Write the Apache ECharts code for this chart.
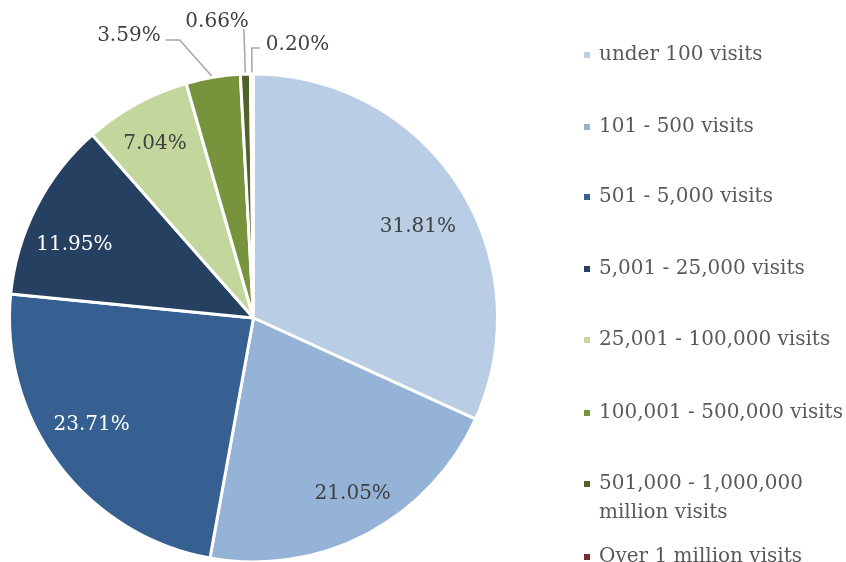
<!DOCTYPE html>
<html>
<head>
<meta charset="utf-8">
<script src="https://cdn.jsdelivr.net/npm/echarts@6/dist/echarts.min.js"></script>
<style>
html,body{margin:0;padding:0;background:#fff;}
#chart{width:846px;height:562px;}
</style>
</head>
<body>
<div id="chart"></div>
<script>
// ---- data ----
const categories = [
  'under 100 visits',
  '101 - 500 visits',
  '501 - 5,000 visits',
  '5,001 - 25,000 visits',
  '25,001 - 100,000 visits',
  '100,001 - 500,000 visits',
  '501,000 - 1,000,000\nmillion visits',
  'Over 1 million visits'
];
const shares = [31.81, 21.05, 23.71, 11.95, 7.04, 3.59, 0.66, 0.20];
const insideLabelled = [true, true, true, true, true, false, false, false];

// ---- styles / layout ----
const colors = ['#B9CDE5', '#95B3D7', '#376092', '#254061', '#C3D69B', '#77933C', '#4F6228', '#772C2A'];
const labelColors = ['#404040', '#404040', '#FFFFFF', '#FFFFFF', '#404040', '#404040', '#404040', '#404040'];
const insideNudge = [[-3, 16], [7, -1], [-3, -13], [-2, 18], [-3, 0], [0, 0], [0, 0], [0, 0]];
const outerLine = [null, null, null, null, null, {length: 38, length2: 41}, {length: 45, length2: 0}, {length: 26, length2: 8}];
const legendCenters = [55, 127, 197, 269, 340, 413, 484, 557];
const serif = '"DejaVu Serif", serif';
const CX = 253.5, CY = 318, R = 244;

const mainData = categories.map((name, i) => {
  const item = {name: name, value: shares[i], itemStyle: {color: colors[i]}};
  if (outerLine[i]) {
    item.label = {show: true};
    item.labelLine = {show: true, length: outerLine[i].length, length2: outerLine[i].length2};
  } else {
    item.label = {show: false};
    item.labelLine = {show: false};
  }
  return item;
});

const innerData = categories.map((name, i) => ({
  name: name,
  value: shares[i],
  itemStyle: {color: 'rgba(0,0,0,0)', borderWidth: 0},
  label: {show: insideLabelled[i], color: labelColors[i], offset: insideNudge[i]}
}));

const legends = categories.map((name, i) => {
  const twoLine = name.indexOf('\n') >= 0;
  const lh = twoLine ? 29 : 24;
  const boxH = twoLine ? 3 * lh : lh;
  return {
    orient: 'vertical',
    left: 582,
    top: legendCenters[i] - boxH / 2,
    padding: 0,
    icon: 'rect',
    itemWidth: 8,
    itemHeight: 8,
    selectedMode: false,
    formatter: n => (n.indexOf('\n') >= 0 ? ' \n' + n : n),
    data: [{name: name, itemStyle: {color: colors[i]}}],
    textStyle: {
      fontFamily: serif,
      fontSize: 20,
      color: '#595959',
      lineHeight: lh,
      padding: [0, 0, 0, 3]
    }
  };
});

function outerLabelLayout(params) {
  const pts = params.labelLinePoints;
  const i = params.dataIndex;
  if (!pts || pts.length < 3) return {hideOverlap: false};
  const p0 = pts[0], p1 = pts[1], p2 = pts[2];
  if (i === 7) {
    // Excel places this last label to the right of its leader
    const nx = p1[0] + Math.abs(p1[0] - p2[0]);
    return {x: nx + 6, y: p1[1] - 3, align: 'left', verticalAlign: 'middle',
            labelLinePoints: [p0, p1, [nx, p1[1]]], hideOverlap: false};
  }
  if (i === 6) {
    return {x: p1[0] + 5, y: p1[1] - 7, align: 'right', verticalAlign: 'middle',
            labelLinePoints: [p0, p1, p1], hideOverlap: false};
  }
  if (i === 5) {
    return {x: p2[0] - 5, y: p2[1] - 4, align: 'right', verticalAlign: 'middle',
            labelLinePoints: [p0, [p2[0] + 14, p2[1]], p2], hideOverlap: false};
  }
  return {hideOverlap: false};
}

const chart = echarts.init(document.getElementById('chart'), null, {renderer: 'canvas'});
chart.setOption({
  animation: false,
  backgroundColor: '#ffffff',
  legend: legends,
  series: [
    {
      type: 'pie',
      center: [CX, CY],
      radius: [0, R],
      startAngle: 90,
      clockwise: true,
      avoidLabelOverlap: false,
      silent: true,
      itemStyle: {borderColor: '#ffffff', borderWidth: 3},
      label: {
        position: 'outside',
        fontFamily: serif,
        fontSize: 20,
        color: '#404040',
        distanceToLabelLine: 4,
        formatter: p => p.value.toFixed(2) + '%'
      },
      labelLine: {lineStyle: {color: '#A6A6A6', width: 1.5}, smooth: false},
      labelLayout: outerLabelLayout,
      data: mainData
    },
    {
      type: 'pie',
      center: [CX, CY],
      radius: [148, R],
      startAngle: 90,
      clockwise: true,
      silent: true,
      avoidLabelOverlap: false,
      label: {
        position: 'inside',
        fontFamily: serif,
        fontSize: 20,
        formatter: p => p.value.toFixed(2) + '%'
      },
      labelLine: {show: false},
      data: innerData
    }
  ]
});
</script>
</body>
</html>
